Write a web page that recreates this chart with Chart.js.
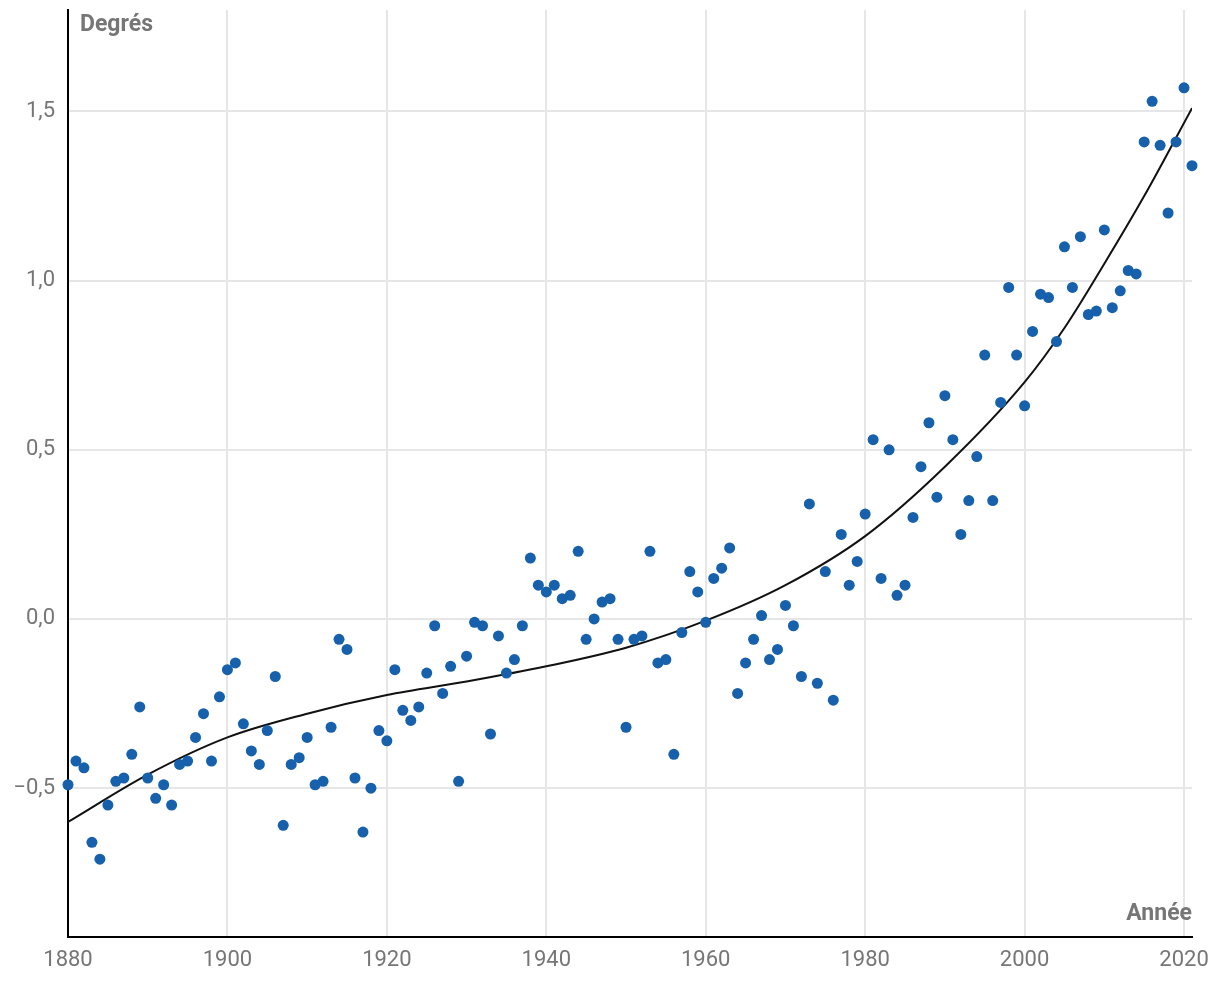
<!DOCTYPE html>
<html>
<head>
<meta charset="utf-8">
<script src="https://cdn.jsdelivr.net/npm/chart.js@4/dist/chart.umd.min.js"></script>
<style>
  html, body { margin: 0; padding: 0; background: #fff; }
  #wrap { width: 1220px; height: 1006px; }
</style>
</head>
<body>
<div id="wrap"><canvas id="chart" width="1220" height="1006"></canvas></div>
<script>
// annual anomalies (degrees)
const years = [
  1880, 1881, 1882, 1883, 1884, 1885, 1886, 1887, 1888, 1889,
  1890, 1891, 1892, 1893, 1894, 1895, 1896, 1897, 1898, 1899,
  1900, 1901, 1902, 1903, 1904, 1905, 1906, 1907, 1908, 1909,
  1910, 1911, 1912, 1913, 1914, 1915, 1916, 1917, 1918, 1919,
  1920, 1921, 1922, 1923, 1924, 1925, 1926, 1927, 1928, 1929,
  1930, 1931, 1932, 1933, 1934, 1935, 1936, 1937, 1938, 1939,
  1940, 1941, 1942, 1943, 1944, 1945, 1946, 1947, 1948, 1949,
  1950, 1951, 1952, 1953, 1954, 1955, 1956, 1957, 1958, 1959,
  1960, 1961, 1962, 1963, 1964, 1965, 1966, 1967, 1968, 1969,
  1970, 1971, 1972, 1973, 1974, 1975, 1976, 1977, 1978, 1979,
  1980, 1981, 1982, 1983, 1984, 1985, 1986, 1987, 1988, 1989,
  1990, 1991, 1992, 1993, 1994, 1995, 1996, 1997, 1998, 1999,
  2000, 2001, 2002, 2003, 2004, 2005, 2006, 2007, 2008, 2009,
  2010, 2011, 2012, 2013, 2014, 2015, 2016, 2017, 2018, 2019,
  2020, 2021
];
const anomalies = [
  -0.49, -0.42, -0.44, -0.66, -0.71, -0.55, -0.48, -0.47, -0.40, -0.26,
  -0.47, -0.53, -0.49, -0.55, -0.43, -0.42, -0.35, -0.28, -0.42, -0.23,
  -0.15, -0.13, -0.31, -0.39, -0.43, -0.33, -0.17, -0.61, -0.43, -0.41,
  -0.35, -0.49, -0.48, -0.32, -0.06, -0.09, -0.47, -0.63, -0.50, -0.33,
  -0.36, -0.15, -0.27, -0.30, -0.26, -0.16, -0.02, -0.22, -0.14, -0.48,
  -0.11, -0.01, -0.02, -0.34, -0.05, -0.16, -0.12, -0.02, 0.18, 0.10,
  0.08, 0.10, 0.06, 0.07, 0.20, -0.06, 0.00, 0.05, 0.06, -0.06,
  -0.32, -0.06, -0.05, 0.20, -0.13, -0.12, -0.40, -0.04, 0.14, 0.08,
  -0.01, 0.12, 0.15, 0.21, -0.22, -0.13, -0.06, 0.01, -0.12, -0.09,
  0.04, -0.02, -0.17, 0.34, -0.19, 0.14, -0.24, 0.25, 0.10, 0.17,
  0.31, 0.53, 0.12, 0.50, 0.07, 0.10, 0.30, 0.45, 0.58, 0.36,
  0.66, 0.53, 0.25, 0.35, 0.48, 0.78, 0.35, 0.64, 0.98, 0.78,
  0.63, 0.85, 0.96, 0.95, 0.82, 1.10, 0.98, 1.13, 0.90, 0.91,
  1.15, 0.92, 0.97, 1.03, 1.02, 1.41, 1.53, 1.40, 1.20, 1.41,
  1.57, 1.34
];

// trend curve
const trendYears = [1880, 1890, 1900, 1910, 1920, 1930, 1940, 1950, 1960, 1970, 1980, 1990, 2000, 2005, 2010, 2015, 2021];
const trendValues = [-0.60, -0.46, -0.35, -0.28, -0.225, -0.185, -0.14, -0.085, -0.005, 0.10, 0.245, 0.45, 0.70, 0.86, 1.05, 1.25, 1.51];

const yTicks = [-0.5, 0, 0.5, 1, 1.5];
const xTicks = [1880, 1900, 1920, 1940, 1960, 1980, 2000, 2020];

const grey = "#767676";
const fontFamily = "Roboto, 'Noto Sans', sans-serif";

const fmt = (v) => {
  const s = Math.abs(v).toFixed(1).replace(".", ",");
  return v < 0 ? "\u2212" + s : s;
};

// axis titles drawn inside the plot area
const axisTitles = {
  id: "axisTitles",
  afterDraw(chart) {
    const { ctx, chartArea } = chart;
    ctx.save();
    ctx.fillStyle = grey;
    ctx.font = "bold 23px " + fontFamily;
    ctx.textBaseline = "alphabetic";
    ctx.textAlign = "left";
    ctx.fillText("Degrés", chartArea.left + 12, 31);
    ctx.textAlign = "right";
    ctx.fillText("Année", chartArea.right, chartArea.bottom - 17);
    ctx.restore();
  },
};

const ctx = document.getElementById("chart").getContext("2d");
new Chart(ctx, {
  type: "scatter",
  data: {
    datasets: [
      {
        label: "Anomalie",
        data: years.map((y, i) => ({ x: y, y: anomalies[i] })),
        backgroundColor: "#1660ac",
        borderWidth: 0,
        pointRadius: 5.5,
        pointHoverRadius: 5.5,
        clip: false,
        order: 0,
      },
      {
        label: "Tendance",
        data: trendYears.map((y, i) => ({ x: y, y: trendValues[i] })),
        showLine: true,
        borderColor: "#111111",
        borderWidth: 2,
        pointRadius: 0,
        cubicInterpolationMode: "monotone",
        fill: false,
        order: 1,
      },
    ],
  },
  options: {
    responsive: false,
    animation: false,
    layout: { padding: { top: 10, right: 28, left: 0, bottom: 0 } },
    plugins: {
      legend: { display: false },
      tooltip: { enabled: false },
    },
    scales: {
      x: {
        type: "linear",
        min: 1880,
        max: 2021,
        afterBuildTicks: (axis) => { axis.ticks = xTicks.map((v) => ({ value: v })); },
        afterFit: (axis) => {
          axis.height = 69;
          axis.paddingLeft = 0;
          axis.paddingRight = 0;
        },
        border: { color: "#000", width: 2 },
        grid: { color: "#e6e6e6", lineWidth: 2, drawTicks: false },
        ticks: {
          color: grey,
          padding: 10,
          maxRotation: 0,
          font: { family: fontFamily, size: 22 },
          callback: (v) => String(v),
        },
      },
      y: {
        min: -0.94,
        max: 1.8,
        afterBuildTicks: (axis) => { axis.ticks = yTicks.map((v) => ({ value: v })); },
        afterFit: (axis) => {
          axis.width = 68;
          axis.paddingTop = 0;
          axis.paddingBottom = 0;
        },
        border: { color: "#000", width: 2 },
        grid: { color: "#e6e6e6", lineWidth: 2, drawTicks: false },
        ticks: {
          color: grey,
          padding: 13,
          font: { family: fontFamily, size: 22 },
          callback: (v) => fmt(v),
        },
      },
    },
  },
  plugins: [axisTitles],
});
</script>
</body>
</html>
